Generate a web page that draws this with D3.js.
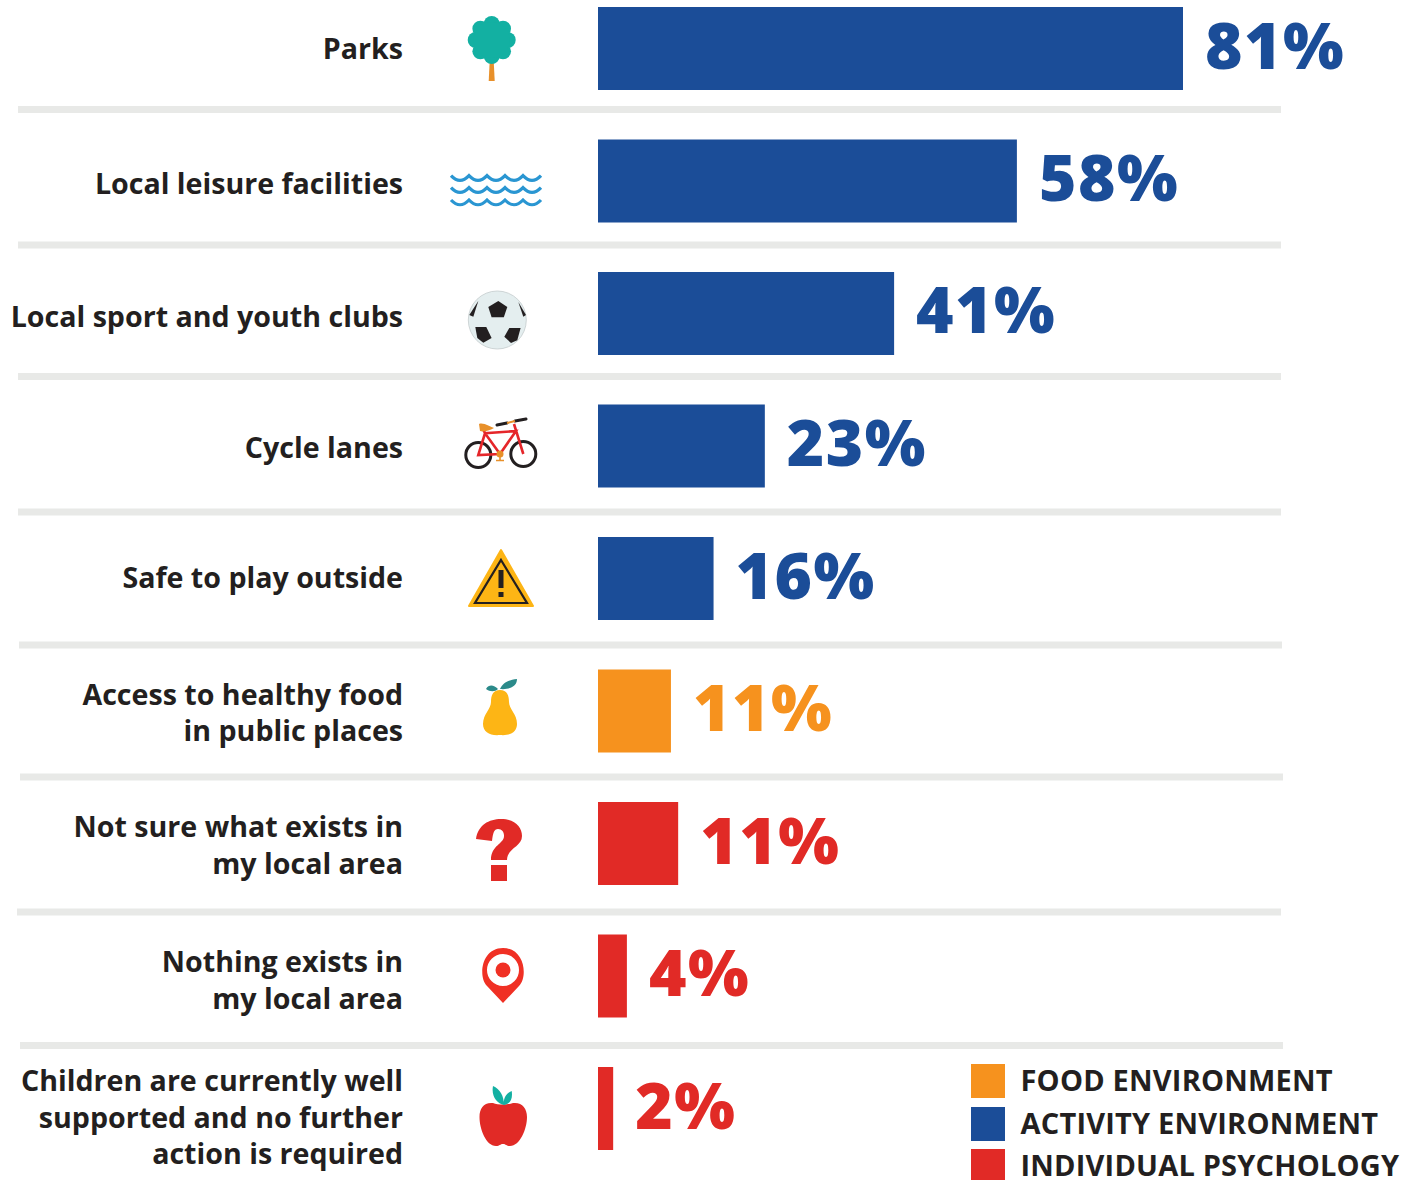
<!DOCTYPE html>
<html><head><meta charset="utf-8">
<script src="https://cdn.jsdelivr.net/npm/d3@7"></script>
<style>html,body{margin:0;padding:0;background:#fff;overflow:hidden}svg{display:block}</style>
</head><body><svg id="c" width="1417" height="1180"></svg>
<script>
const categories=["Parks","Local leisure facilities","Local sport and youth clubs","Cycle lanes","Safe to play outside","Access to healthy food|in public places","Not sure what exists in|my local area","Nothing exists in|my local area","Children are currently well|supported and no further|action is required"];
const barValues=[81,58,41,23.1,16,10.1,11.1,4,2.1];
const valueLabels=["81%","58%","41%","23%","16%","11%","11%","4%","2%"];
const groups=["a","a","a","a","a","f","p","p","p"];
const icons=["tree","waves","ball","bike","warn","pear","q","pin","apple"];
const labelBaselines=[[59],[194],[327],[458],[588],[705,741],[837,874],[972,1009],[1091,1128,1164]];
const valueBaselines=[69,201,333,466,599,731,864,996,1129];
const iconCenters=[[491.7,49],[496,191],[497.3,320],[501,445],[501,579],[500,709],[499,850],[503,975],[503,1116]];
const separators=[[18,1281,109.5],[18,1281,245],[18,1281,376.5],[18,1281,512],[19,1282,645],[20,1283,777],[17,1281,912],[20,1283,1045.5]];
const legendNames=["FOOD ENVIRONMENT","ACTIVITY ENVIRONMENT","INDIVIDUAL PSYCHOLOGY"];
const legendKeys=["f","a","p"];
const legendTops=[1064,1107,1149];
const legendBaselines=[1091,1133.5,1175.5];
const colorOf={a:"#1b4d98",f:"#f6921e",p:"#e12a26"};
const svg=d3.select("#c");
const x=d3.scaleLinear().domain([0,81]).range([598,1183]);
const y=d3.scaleBand().domain(categories).range([7,1150]).paddingInner(49.5/132.5).paddingOuter(0);
const FONT="'Open Sans',sans-serif";
svg.selectAll("rect.sep").data(separators).join("rect").attr("class","sep")
 .attr("x",d=>d[0]).attr("width",d=>d[1]-d[0]).attr("y",d=>d[2]-3.5).attr("height",7).attr("fill","#e8e9e7");
svg.selectAll("rect.bar").data(categories).join("rect").attr("class","bar")
 .attr("x",x(0)).attr("y",d=>y(d)).attr("height",y.bandwidth())
 .attr("width",(d,i)=>x(barValues[i])-x(0)).attr("fill",(d,i)=>colorOf[groups[i]]);
svg.selectAll("text.val").data(valueLabels).join("text").attr("class","val")
 .attr("x",(d,i)=>x(barValues[i])+22).attr("y",(d,i)=>valueBaselines[i]).text(d=>d)
 .attr("letter-spacing",1.5)
 .attr("font-family",FONT).attr("font-weight",800).attr("font-size",64).attr("fill",(d,i)=>colorOf[groups[i]]);
categories.forEach((c,i)=>{c.split("|").forEach((l,k)=>{
 svg.append("text").attr("x",403).attr("y",labelBaselines[i][k]).attr("text-anchor","end").text(l)
 .attr("font-family",FONT).attr("font-weight",700).attr("font-size",28.6).attr("fill","#231f20");});});
legendNames.forEach((n,i)=>{
 svg.append("rect").attr("x",971).attr("y",legendTops[i]).attr("width",34).attr("height",34).attr("fill",colorOf[legendKeys[i]]);
 svg.append("text").attr("x",1020.5).attr("y",legendBaselines[i]).text(n).attr("letter-spacing",.2).attr("font-family",FONT).attr("font-weight",700).attr("font-size",29).attr("fill","#231f20");
});
const draw={
 tree(g){g.append("path").attr("d","M-2 12H2L3 32H-3Z").attr("fill","#e8902a");
  d3.range(8).forEach(k=>{const a=k*Math.PI/4;g.append("circle").attr("cx",16*Math.sin(a)).attr("cy",-9+16*Math.cos(a)).attr("r",8).attr("fill","#13b0a2");});
  g.append("circle").attr("cy",-9).attr("r",18).attr("fill","#13b0a2");},
 waves(g){[-15.3,-3.3,9].forEach(dy=>{let p="M-45 "+dy;d3.range(5).forEach(()=>{p+=" q9 9.5 18 0";});
  g.append("path").attr("d",p).attr("fill","none").attr("stroke","#2a96d2").attr("stroke-width",3.2);});},
 ball(g){g.append("circle").attr("r",29).attr("fill","#e4eeef").attr("stroke","#c4cccd").attr("stroke-width",.8);
  const P=(d)=>g.append("path").attr("d",d).attr("fill","#231f20");
  P("M-9 -13L1 -19L10 -13L6.5 -2.7L-5.7 -2.7Z");P("M-22 7L-11 7L-5.7 18L-14 22.7L-20 18Z");P("M12 8L23.3 8L20 20.3L13.7 23L7 16.7Z");
  P("M-19 -19L-28 -5L-24 -3.3Z");P("M21 -18L28.7 -5L26 -3.3Z");},
 bike(g){[[-22.7,10],[22.3,9]].forEach(w=>g.append("circle").attr("cx",w[0]).attr("cy",w[1]).attr("r",12.5).attr("fill","none").attr("stroke","#231f20").attr("stroke-width",3));
  g.append("path").attr("d","M-22.7 10L-16 -11.7L15 -14L-1 9Z M-16 -11.7L-1 9 M-18 -16L-16 -11.7 M13 -21L22.3 9").attr("fill","none").attr("stroke","#e5262a").attr("stroke-width",2.6);
  g.append("path").attr("d","M-22 -21C-18 -23 -10 -18 -7 -17C-12 -14 -18 -13 -21 -14Z").attr("fill","#e8902a");
  g.append("circle").attr("cx",-1).attr("cy",9).attr("r",3.5).attr("fill","#e8902a");
  g.append("path").attr("d","M-1 10V15M-5 15.5H3").attr("fill","none").attr("stroke","#e8902a").attr("stroke-width",1.6);
  g.append("path").attr("d","M-4 -20L6 -22M14 -24L25 -26").attr("stroke","#231f20").attr("stroke-width",3).attr("stroke-linecap","round");
  g.append("path").attr("d","M6 -22L14 -24").attr("stroke","#e8902a").attr("stroke-width",2);},
 warn(g){g.append("path").attr("d","M0 -29L32 27H-32Z").attr("fill","#fdb515").attr("stroke","#fdb515").attr("stroke-width",2).attr("stroke-linejoin","round");
  g.append("path").attr("d","M0 -19L26 24H-26Z").attr("fill","none").attr("stroke","#231f20").attr("stroke-width",2.2);
  g.append("path").attr("d","M-2.5 -9H2.5V9H-2.5Z M-2.5 13H2.5V18H-2.5Z").attr("fill","#231f20");},
 pear(g){g.append("path").attr("d","M0 -19C7 -19 9 -14 9 -7C9 0 17 5 17 15C17 23 10 27 0 26C-10 27 -17 23 -17 15C-17 5 -9 0 -9 -7C-9 -14 -7 -19 0 -19Z").attr("fill","#fdb515");
  g.append("path").attr("d","M0 -20C3 -27 9 -29 17 -30C17 -23 10 -19 0 -20Z M-2 -20C-6 -24 -11 -25 -14 -20C-10 -17 -5 -17 -2 -20Z").attr("fill","#2b8a8a");},
 q(g){g.append("path").attr("d","M-23 -11C-21 -25 -10 -31 2 -31C16 -31 23 -23 23 -14C23 -3 8 -2 8 10H-8C-8 -5 5 -6 5 -14C5 -18 3 -21 -1 -21C-5 -21 -6 -17 -7 -9Z M-8 15H8V31H-8Z").attr("fill","#e12a26");},
 pin(g){g.append("path").attr("fill-rule","evenodd").attr("d","M0 28L-16 11C-25 2 -22 -27 0 -27C22 -27 25 2 16 11Z M0 -21A16 16 0 1 0 0 11A16 16 0 1 0 0 -21Z").attr("fill","#f03024");
  g.append("circle").attr("cy",-5).attr("r",7.5).attr("fill","#f03024");},
 apple(g){g.append("path").attr("d","M-10 -13C-5 -11 5 -11 10 -13C19 -14 24 -8 24 1C24 13 17 30 7 30C3 30 3 28 0 28C-3 28 -3 30 -7 30C-17 30 -23.5 13 -23.5 1C-23.5 -8 -19 -14 -10 -13Z").attr("fill","#e12a26");
  g.append("path").attr("d","M-10 -30C-3 -27 1 -20 1 -11C-6 -12 -12 -20 -10 -30Z M8.7 -25C10 -17 7 -12 1 -11C0 -17 3 -23 8.7 -25Z").attr("fill","#13b0a2");}
};
icons.forEach((k,i)=>draw[k](svg.append("g").attr("transform","translate("+iconCenters[i]+")")));
</script></body></html>
